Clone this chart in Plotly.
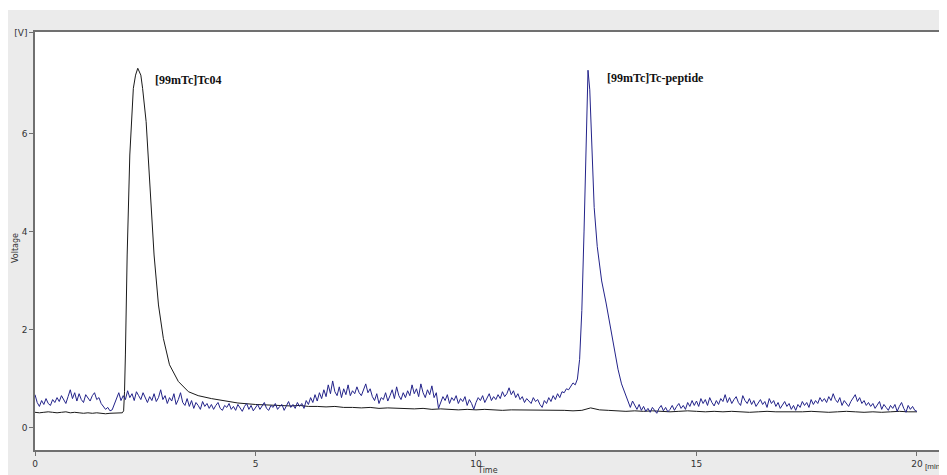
import numpy as np
import plotly.graph_objects as go

# ---------------- data ----------------
# Black trace: [99mTc]TcO4
black_pre_v = [0.32, 0.31, 0.32, 0.33, 0.32, 0.31, 0.32, 0.33, 0.31, 0.32,
               0.31, 0.30, 0.31, 0.30, 0.31, 0.30, 0.29, 0.30, 0.30, 0.31]  # t 0.0..1.9
black_peak_t = [1.98, 2.01, 2.03, 2.05, 2.09, 2.15, 2.23, 2.28, 2.33, 2.40, 2.44, 2.52,
                2.61, 2.70, 2.80, 2.91, 3.05, 3.25, 3.48, 3.70, 4.00, 4.30, 4.60]
black_peak_v = [0.31, 0.35, 0.74, 1.49, 3.53, 5.57, 6.93, 7.20, 7.34, 7.20, 6.93, 6.25,
                4.89, 3.53, 2.51, 1.83, 1.29, 0.95, 0.74, 0.66, 0.60, 0.55, 0.51]
black_post_v = [0.48, 0.47, 0.47, 0.46, 0.45, 0.46, 0.44, 0.44, 0.43, 0.44,   # 5.0..6.8
                0.42, 0.42, 0.41, 0.42, 0.40, 0.41, 0.40, 0.40, 0.39, 0.40,   # 7.0..8.8
                0.38, 0.39, 0.38, 0.37, 0.38, 0.37, 0.38, 0.37, 0.36, 0.37,   # 9.0..10.8
                0.37, 0.36, 0.37, 0.36, 0.37, 0.36, 0.35, 0.36, 0.41, 0.37,   # 11.0..12.8
                0.36, 0.35, 0.34, 0.35, 0.34, 0.35, 0.34, 0.33, 0.34, 0.35,   # 13.0..14.8
                0.34, 0.33, 0.34, 0.33, 0.34, 0.33, 0.32, 0.33, 0.34, 0.33,   # 15.0..16.8
                0.33, 0.32, 0.33, 0.34, 0.33, 0.32, 0.33, 0.34, 0.33, 0.32,   # 17.0..18.8
                0.33, 0.32, 0.33, 0.34, 0.33, 0.33]                           # 19.0..20.0

# Blue trace: [99mTc]Tc-peptide  (0.05 min sampling)
blue_pre_v = [
    0.68, 0.52, 0.44, 0.56, 0.48, 0.60, 0.50, 0.46, 0.58, 0.52,   # 0.0
    0.62, 0.54, 0.66, 0.58, 0.50, 0.64, 0.78, 0.60, 0.72, 0.55,   # 0.5
    0.70, 0.58, 0.52, 0.68, 0.60, 0.55, 0.66, 0.72, 0.58, 0.62,   # 1.0
    0.50, 0.44, 0.38, 0.42, 0.35, 0.37, 0.48, 0.58, 0.72, 0.56,   # 1.5
    0.66, 0.58, 0.76, 0.62, 0.70, 0.56, 0.74, 0.66, 0.58, 0.72,   # 2.0
    0.60, 0.52, 0.64, 0.56, 0.70, 0.54, 0.62, 0.78, 0.58, 0.66,   # 2.5
    0.50, 0.62, 0.55, 0.70, 0.48, 0.58, 0.72, 0.52, 0.46, 0.60,   # 3.0
    0.44, 0.56, 0.40, 0.52, 0.46, 0.38, 0.54, 0.44, 0.50, 0.40,   # 3.5
    0.48, 0.38, 0.46, 0.52, 0.40, 0.36, 0.46, 0.42, 0.50, 0.38,   # 4.0
    0.44, 0.36, 0.48, 0.40, 0.34, 0.44, 0.50, 0.38, 0.46, 0.35,   # 4.5
    0.42, 0.48, 0.38, 0.45, 0.52, 0.40, 0.36, 0.46, 0.42, 0.50,   # 5.0
    0.38, 0.44, 0.48, 0.36, 0.46, 0.54, 0.42, 0.48, 0.40, 0.52,   # 5.5
    0.44, 0.50, 0.40, 0.56, 0.48, 0.62, 0.52, 0.68, 0.55, 0.72,   # 6.0
    0.60, 0.78, 0.64, 0.88, 0.70, 0.96, 0.74, 0.66, 0.84, 0.62,   # 6.5
    0.80, 0.68, 0.88, 0.66, 0.76, 0.70, 0.84, 0.72, 0.66, 0.78,   # 7.0
    0.90, 0.72, 0.80, 0.64, 0.56, 0.70, 0.50, 0.62, 0.58, 0.72,   # 7.5
    0.55, 0.66, 0.78, 0.60, 0.84, 0.66, 0.58, 0.72, 0.62, 0.76,   # 8.0
    0.66, 0.88, 0.70, 0.80, 0.64, 0.90, 0.72, 0.62, 0.78, 0.68,   # 8.5
    0.86, 0.62, 0.72, 0.40, 0.52, 0.64, 0.56, 0.68, 0.50, 0.62,   # 9.0
    0.56, 0.66, 0.50, 0.60, 0.54, 0.64, 0.46, 0.58, 0.50, 0.38,   # 9.5
    0.52, 0.62, 0.56, 0.66, 0.52, 0.60, 0.70, 0.56, 0.64, 0.58,   # 10.0
    0.68, 0.60, 0.74, 0.64, 0.70, 0.82, 0.68, 0.76, 0.62, 0.70,   # 10.5
    0.58, 0.64, 0.52, 0.60, 0.56, 0.50, 0.62, 0.54, 0.58, 0.48,   # 11.0
    0.42, 0.56, 0.50, 0.62, 0.54, 0.66, 0.58, 0.70, 0.62, 0.74,   # 11.5
    0.72, 0.80, 0.78, 0.86, 0.92]                                 # 12.0..12.2
blue_peak_t = [12.25, 12.30, 12.35, 12.40, 12.45, 12.50, 12.54, 12.58, 12.63, 12.68,
               12.75, 12.85, 12.95, 13.05, 13.15, 13.22, 13.30, 13.38, 13.45]
blue_peak_v = [0.88, 1.00, 1.40, 2.40, 4.00, 6.00, 7.30, 6.90, 5.60, 4.50,
               3.70, 3.00, 2.55, 2.05, 1.55, 1.20, 0.90, 0.72, 0.55]
blue_post_v = [
    0.42, 0.55, 0.46, 0.38, 0.48, 0.36, 0.44, 0.34, 0.40, 0.32,   # 13.5
    0.42, 0.36, 0.30, 0.40, 0.46, 0.35, 0.42, 0.33, 0.38, 0.46,   # 14.0
    0.36, 0.44, 0.50, 0.40, 0.46, 0.38, 0.52, 0.44, 0.56, 0.46,   # 14.5
    0.55, 0.44, 0.60, 0.50, 0.58, 0.46, 0.62, 0.52, 0.45, 0.56,   # 15.0
    0.48, 0.60, 0.54, 0.68, 0.52, 0.62, 0.50, 0.58, 0.64, 0.52,   # 15.5
    0.46, 0.66, 0.56, 0.50, 0.60, 0.48, 0.56, 0.44, 0.52, 0.58,   # 16.0
    0.48, 0.54, 0.42, 0.60, 0.50, 0.56, 0.44, 0.52, 0.40, 0.48,   # 16.5
    0.54, 0.44, 0.50, 0.38, 0.46, 0.36, 0.48, 0.42, 0.54, 0.46,   # 17.0
    0.52, 0.42, 0.58, 0.48, 0.56, 0.50, 0.62, 0.54, 0.60, 0.52,   # 17.5
    0.64, 0.56, 0.70, 0.58, 0.52, 0.62, 0.46, 0.56, 0.50, 0.44,   # 18.0
    0.54, 0.60, 0.68, 0.54, 0.62, 0.50, 0.56, 0.46, 0.52, 0.44,   # 18.5
    0.50, 0.40, 0.46, 0.54, 0.38, 0.48, 0.42, 0.36, 0.46, 0.40,   # 19.0
    0.48, 0.34, 0.44, 0.52, 0.40, 0.32, 0.46, 0.38, 0.44, 0.36,   # 19.5
    0.34]                                                         # 20.0

x_ticks = [0, 5, 10, 15, 20]
y_ticks = [0, 2, 4, 6]
y_tick_text = ["0", "2", "4", "6"]
label_tco4 = "[99mTc]Tc04"
label_peptide = "[99mTc]Tc-peptide"

# --------------- sampling grids ---------------
black_pre_t = np.round(0.0 + 0.1 * np.arange(len(black_pre_v)), 2)
black_post_t = np.round(5.0 + 0.2 * np.arange(len(black_post_v)), 2)
blue_pre_t = np.round(0.0 + 0.05 * np.arange(len(blue_pre_v)), 2)
blue_post_t = np.round(13.5 + 0.05 * np.arange(len(blue_post_v)), 2)

black_t = list(black_pre_t) + black_peak_t + list(black_post_t)
black_v = black_pre_v + black_peak_v + black_post_v
blue_t = list(blue_pre_t) + blue_peak_t + list(blue_post_t)
blue_v = blue_pre_v + blue_peak_v + blue_post_v

# --------------- figure ---------------
# The page body adds an 8 px offset; the figure fills the remaining window.
OFF = 8
W, H = 947 - OFF, 475 - OFF
L, R, T, B = 35 - OFF, 4, 32 - OFF, 25
pw, ph = W - L - R, H - T - B

fig = go.Figure()
fig.add_trace(go.Scatter(x=black_t, y=black_v, mode="lines",
                         line=dict(color="#1a1a1a", width=1), showlegend=False))
fig.add_trace(go.Scatter(x=blue_t, y=blue_v, mode="lines",
                         line=dict(color="#23238a", width=1), showlegend=False))

def px_x(p):  # page pixel -> paper x
    return (p - OFF - L) / pw

def px_y(p):  # page pixel -> paper y
    return (H - B - (p - OFF)) / ph

tick_font = dict(family="DejaVu Sans", size=9, color="#333333")
small_font = dict(family="DejaVu Sans", size=8, color="#333333")
unit_font = dict(family="Liberation Sans", size=8, color="#333333")
axis_col = "#707070"

fig.update_layout(
    width=W, height=H,
    margin=dict(l=L, r=R, t=T, b=B, pad=0, autoexpand=False),
    paper_bgcolor="#ebebeb",
    plot_bgcolor="#ffffff",
    xaxis=dict(range=[0, 20.59], tickvals=x_ticks, ticks="outside", ticklen=4,
               tickcolor=axis_col, showline=True, mirror=True, linecolor=axis_col,
               linewidth=1.5, showgrid=False, zeroline=False, tickfont=tick_font,
               automargin=False),
    yaxis=dict(range=[-0.449, 8.08], tickvals=y_ticks + [8.07], ticktext=y_tick_text + ["[V]"],
               ticks="outside", ticklen=4, tickcolor=axis_col, showline=True, mirror=True,
               linecolor=axis_col, linewidth=1.5, showgrid=False, zeroline=False,
               tickfont=tick_font, automargin=False),
    shapes=[
        dict(type="rect", xref="paper", yref="paper", x0=px_x(0), x1=px_x(947),
             y0=px_y(10), y1=px_y(0), fillcolor="#ffffff", line=dict(width=0), layer="below"),
    ],
    annotations=[
        dict(text=label_tco4, x=2.67, y=7.1, xref="x", yref="y", xanchor="left",
             yanchor="middle", showarrow=False,
             font=dict(family="Liberation Serif", size=12, color="#111111", weight="bold")),
        dict(text=label_peptide, x=12.93, y=7.15, xref="x", yref="y", xanchor="left",
             yanchor="middle", showarrow=False,
             font=dict(family="Liberation Serif", size=12, color="#111111", weight="bold")),
        dict(text="Voltage", x=px_x(15), y=px_y(248), xref="paper", yref="paper",
             xanchor="center", yanchor="middle", textangle=-90, showarrow=False, font=small_font),
        dict(text="Time", x=px_x(487), y=px_y(470), xref="paper", yref="paper",
             xanchor="center", yanchor="middle", showarrow=False, font=small_font),
        dict(text="[min", x=px_x(923), y=px_y(466), xref="paper", yref="paper",
             xanchor="left", yanchor="middle", showarrow=False, font=unit_font),
    ],
)

fig.write_html("out.html",
               post_script="document.documentElement.style.overflow='hidden';"
                           "document.body.style.overflow='hidden';")
